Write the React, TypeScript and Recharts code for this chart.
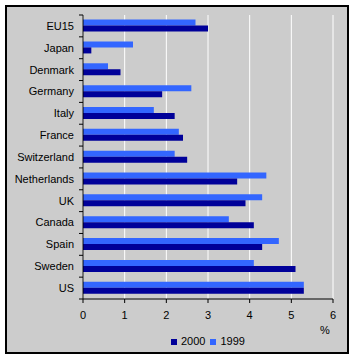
import React from 'react';
import {
  BarChart,
  Bar,
  XAxis,
  YAxis,
  CartesianGrid,
} from 'recharts';

// Categories, top to bottom as in the reference
const countries = [
  'EU15',
  'Japan',
  'Denmark',
  'Germany',
  'Italy',
  'France',
  'Switzerland',
  'Netherlands',
  'UK',
  'Canada',
  'Spain',
  'Sweden',
  'US',
];

const values1999 = [2.7, 1.2, 0.6, 2.6, 1.7, 2.3, 2.2, 4.4, 4.3, 3.5, 4.7, 4.1, 5.3];
const values2000 = [3.0, 0.2, 0.9, 1.9, 2.2, 2.4, 2.5, 3.7, 3.9, 4.1, 4.3, 5.1, 5.3];

const xTicks = [0, 1, 2, 3, 4, 5, 6];

const data = countries.map((name, i) => ({
  name,
  y1999: values1999[i],
  y2000: values2000[i],
}));

const DARK = '#000099';
const LIGHT = '#3366FF';
const BG = '#CCCCCC';
const FONT = '"Liberation Sans", Arial, sans-serif';

const CHART_W = 340;
const CHART_H = 345;
const PLOT_LEFT = 76;
const PLOT_TOP = 8;
const PLOT_BOTTOM = 292;
const BAND = (PLOT_BOTTOM - PLOT_TOP) / countries.length;

function CountryTick(props: any) {
  const { y, payload, index } = props;
  const top = y - BAND / 2;
  return (
    <g>
      <text
        x={PLOT_LEFT - 9}
        y={y}
        dy="0.36em"
        textAnchor="end"
        fontSize={11}
        fontFamily={FONT}
        fill="#000"
      >
        {payload.value}
      </text>
      <line x1={PLOT_LEFT - 4} x2={PLOT_LEFT} y1={top} y2={top} stroke="#000" />
      {index === countries.length - 1 && (
        <line
          x1={PLOT_LEFT - 4}
          x2={PLOT_LEFT}
          y1={top + BAND}
          y2={top + BAND}
          stroke="#000"
        />
      )}
    </g>
  );
}

function Swatch({ color, label }: { color: string; label: string }) {
  return (
    <span style={{ display: 'inline-flex', alignItems: 'center', marginRight: 5 }}>
      <span
        style={{
          display: 'inline-block',
          width: 6,
          height: 6,
          background: color,
          marginRight: 4,
        }}
      />
      {label}
    </span>
  );
}

export default function App() {
  return (
    <div
      style={{
        position: 'absolute',
        left: 0,
        top: 0,
        width: 354,
        height: 359,
        background: '#fff',
        fontFamily: FONT,
      }}
    >
      <div
        style={{
          position: 'absolute',
          left: 5,
          top: 5,
          width: 344,
          height: 349,
          boxSizing: 'border-box',
          border: '2px solid #000',
          background: BG,
        }}
      >
        <BarChart
          width={CHART_W}
          height={CHART_H}
          data={data}
          layout="vertical"
          margin={{ top: PLOT_TOP, right: 14, left: 0, bottom: 0 }}
          barCategoryGap="21%"
          barGap={0}
        >
          <CartesianGrid horizontal={false} stroke="#fff" strokeWidth={1} />
          <XAxis
            type="number"
            domain={[0, 6]}
            ticks={xTicks}
            interval={0}
            height={CHART_H - PLOT_BOTTOM}
            axisLine={{ stroke: '#000' }}
            tickLine={{ stroke: '#000' }}
            tickSize={4}
            tickMargin={8}
            tick={{ fill: '#000', fontSize: 11, fontFamily: FONT }}
            label={{
              content: ({ viewBox }: any) => (
                <text
                  x={viewBox.x + viewBox.width - 8}
                  y={viewBox.y + 35}
                  textAnchor="middle"
                  fontSize={11}
                  fontFamily={FONT}
                  fill="#000"
                >
                  %
                </text>
              ),
            }}
          />
          <XAxis
            xAxisId="top"
            type="number"
            orientation="top"
            domain={[0, 6]}
            height={0}
            tick={false}
            tickLine={false}
            axisLine={{ stroke: '#999' }}
          />
          <YAxis
            type="category"
            dataKey="name"
            width={PLOT_LEFT}
            axisLine={{ stroke: '#000' }}
            tickLine={false}
            interval={0}
            tick={<CountryTick />}
          />
          <YAxis
            yAxisId="right"
            type="category"
            dataKey="name"
            orientation="right"
            width={0}
            tick={false}
            tickLine={false}
            axisLine={{ stroke: '#999' }}
          />
          <Bar dataKey="y1999" fill={LIGHT} isAnimationActive={false} />
          <Bar dataKey="y2000" fill={DARK} isAnimationActive={false} />
        </BarChart>
        <div
          style={{
            position: 'absolute',
            left: 164,
            top: 328,
            fontSize: 11,
            lineHeight: '13px',
            display: 'flex',
            color: '#000',
          }}
        >
          <Swatch color={DARK} label="2000" />
          <Swatch color={LIGHT} label="1999" />
        </div>
      </div>
    </div>
  );
}
